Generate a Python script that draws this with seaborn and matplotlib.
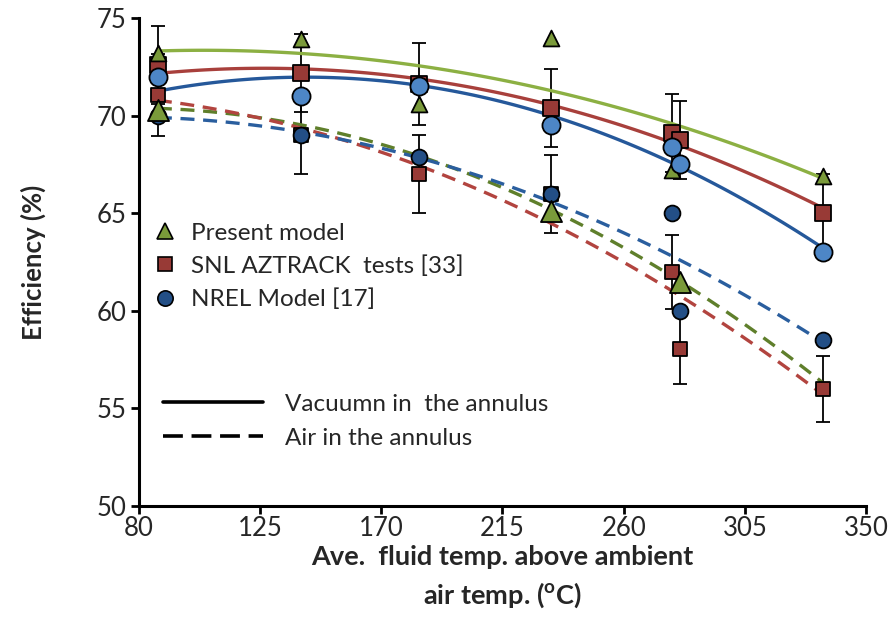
import matplotlib
matplotlib.use("Agg")
import matplotlib.pyplot as plt
import seaborn as sns
import numpy as np
import pandas as pd
from matplotlib.lines import Line2D

# ---------------- data ----------------
# Present model (triangles)
present_vac_x = [87, 140, 184, 233, 278, 334]
present_vac_y = [73.2, 73.9, 70.6, 74.0, 67.2, 66.9]
present_air_x = [87, 233, 281]
present_air_y = [70.3, 65.1, 61.5]

# SNL AZTRACK tests [33] (squares, with error bars)
snl_vac_x = [87, 140, 184, 233, 278, 281, 334]
snl_vac_y = [72.6, 72.2, 71.6, 70.4, 69.1, 68.75, 65.0]
snl_vac_err = [2.0, 2.0, 2.1, 2.0, 2.0, 2.0, 2.0]
snl_air_x = [87, 140, 184, 233, 278, 281, 334]
snl_air_y = [71.05, 69.0, 67.0, 66.0, 62.0, 58.05, 56.0]
snl_air_err = [2.1, 2.0, 2.0, 2.0, 1.9, 1.8, 1.7]

# NREL Model [17] (circles)
nrel_vac_x = [87, 140, 184, 233, 278, 281, 334]
nrel_vac_y = [72.0, 71.0, 71.5, 69.5, 68.4, 67.5, 63.0]
nrel_air_x = [87, 140, 184, 233, 278, 281, 334]
nrel_air_y = [70.0, 69.0, 67.9, 66.0, 65.0, 60.0, 58.5]

# trend-line values at these temperatures
trend_x = [87, 140, 184, 233, 279, 334]
trend_present_vac = [73.3, 73.2, 72.55, 71.3, 69.5, 66.8]
trend_snl_vac = [72.2, 72.35, 71.85, 70.5, 68.7, 65.2]
trend_nrel_vac = [71.4, 71.8, 71.4, 69.95, 67.95, 63.0]
trend_present_air = [70.4, 69.5, 67.85, 65.3, 61.65, 56.3]
trend_snl_air = [70.8, 69.3, 67.4, 64.8, 60.6, 55.8]
trend_nrel_air = [69.9, 69.1, 67.9, 65.8, 62.4, 58.5]

x_ticks = [80, 125, 170, 215, 260, 305, 350]
y_ticks = [50, 55, 60, 65, 70, 75]

# ---------------- style ----------------
sns.set_theme(style="white")
plt.rcParams["font.family"] = ["Lato", "DejaVu Sans"]
plt.rcParams["mathtext.fontset"] = "custom"
plt.rcParams["mathtext.rm"] = "Lato"
plt.rcParams["mathtext.bf"] = "Lato:bold"

C_GREEN_L = "#8CB043"
C_GREEN_D = "#5F7F2B"
C_RED_L = "#A8403C"
C_RED_D = "#B2443F"
C_BLUE_L = "#25589A"
C_BLUE_D = "#2A5E9E"
M_TRI = "#7A9A3A"
M_SQ = "#983A36"
M_CIR_L = "#4D86C6"
M_CIR_D = "#234F86"

fig = plt.figure(figsize=(8.93, 6.41), dpi=100)
ax = fig.add_axes([139 / 893, 1 - 506 / 641, (866 - 139) / 893, (506 - 18) / 641])

# ---------------- error bars ----------------
ax.errorbar(snl_vac_x, snl_vac_y, yerr=snl_vac_err, fmt="none", ecolor="black",
            elinewidth=1.3, capsize=5, capthick=1.3, zorder=1)
ax.errorbar(snl_air_x, snl_air_y, yerr=snl_air_err, fmt="none", ecolor="black",
            elinewidth=1.3, capsize=5, capthick=1.3, zorder=1)

# ---------------- quadratic trend lines ----------------
dash = (0, (4.2, 2.6))
trend_specs = [
    (trend_present_vac, C_GREEN_L, "-"),
    (trend_snl_vac, C_RED_L, "-"),
    (trend_nrel_vac, C_BLUE_L, "-"),
    (trend_present_air, C_GREEN_D, dash),
    (trend_snl_air, C_RED_D, dash),
    (trend_nrel_air, C_BLUE_D, dash),
]
for vals, col, ls in trend_specs:
    sns.regplot(x=np.array(trend_x, float), y=np.array(vals, float), order=2, ci=None,
                scatter=False, truncate=True, ax=ax,
                line_kws=dict(color=col, lw=2.4, ls=ls, zorder=2))

# ---------------- markers ----------------
ec = dict(edgecolor="black", linewidth=1.3, zorder=3)
sns.scatterplot(x=snl_vac_x, y=snl_vac_y, marker="s", s=120, color=M_SQ, ax=ax, **ec)
sns.scatterplot(x=snl_air_x, y=snl_air_y, marker="s", s=90, color=M_SQ, ax=ax, **ec)
sns.scatterplot(x=nrel_air_x, y=nrel_air_y, marker="o", s=130, color=M_CIR_D, ax=ax, **ec)
sns.scatterplot(x=present_vac_x, y=present_vac_y, marker="^", s=130, color=M_TRI, ax=ax, **ec)
sns.scatterplot(x=present_air_x, y=present_air_y, marker="^", s=230, color=M_TRI, ax=ax, **ec)
sns.scatterplot(x=nrel_vac_x, y=nrel_vac_y, marker="o", s=170, color=M_CIR_L, ax=ax, **ec)

# ---------------- axes ----------------
ax.set_xlim(80, 350)
ax.set_ylim(50, 75)
ax.set_xticks(x_ticks)
ax.set_yticks(y_ticks)
ax.tick_params(axis="both", direction="out", length=6, width=2, color="black",
               labelsize=18.5, pad=3, left=True, bottom=True)
ax.tick_params(axis="x", pad=1)
for s in ["top", "right"]:
    ax.spines[s].set_visible(False)
for s in ["left", "bottom"]:
    ax.spines[s].set_color("black")
    ax.spines[s].set_linewidth(2.2)
ax.grid(False)

ax.set_ylabel("Efficiency (%)", fontsize=18.5, fontweight="bold", labelpad=36)
ax.set_xlabel("Ave.  fluid temp. above ambient\nair temp. ($^{\\mathbf{o}}$C)",
              fontsize=19.5, fontweight="bold", labelpad=3, linespacing=1.5)

# ---------------- legends ----------------
mk_handles = [
    Line2D([], [], ls="none", marker="^", ms=11, mfc=M_TRI, mec="black", mew=1.2),
    Line2D([], [], ls="none", marker="s", ms=10, mfc=M_SQ, mec="black", mew=1.2),
    Line2D([], [], ls="none", marker="o", ms=11, mfc=M_CIR_D, mec="black", mew=1.2),
]
leg1 = ax.legend(mk_handles, ["Present model", "SNL AZTRACK  tests [33]", "NREL Model [17]"],
                 loc="upper left", bbox_to_anchor=(0.005, 0.6), frameon=False,
                 fontsize=17.5, handlelength=1.0, handletextpad=0.6, labelspacing=0.47,
                 borderaxespad=0)
ax.add_artist(leg1)

ln_handles = [
    Line2D([], [], color="black", lw=2.6, ls="-"),
    Line2D([], [], color="black", lw=2.6, ls=(0, (5.5, 2.4))),
]
ax.legend(ln_handles, ["Vacuumn in  the annulus", "Air in the annulus"],
          loc="upper left", bbox_to_anchor=(0.02, 0.25), frameon=False,
          fontsize=17.5, handlelength=4.1, handletextpad=0.9, labelspacing=0.54,
          borderaxespad=0)

fig.savefig("out.png", dpi=100)
